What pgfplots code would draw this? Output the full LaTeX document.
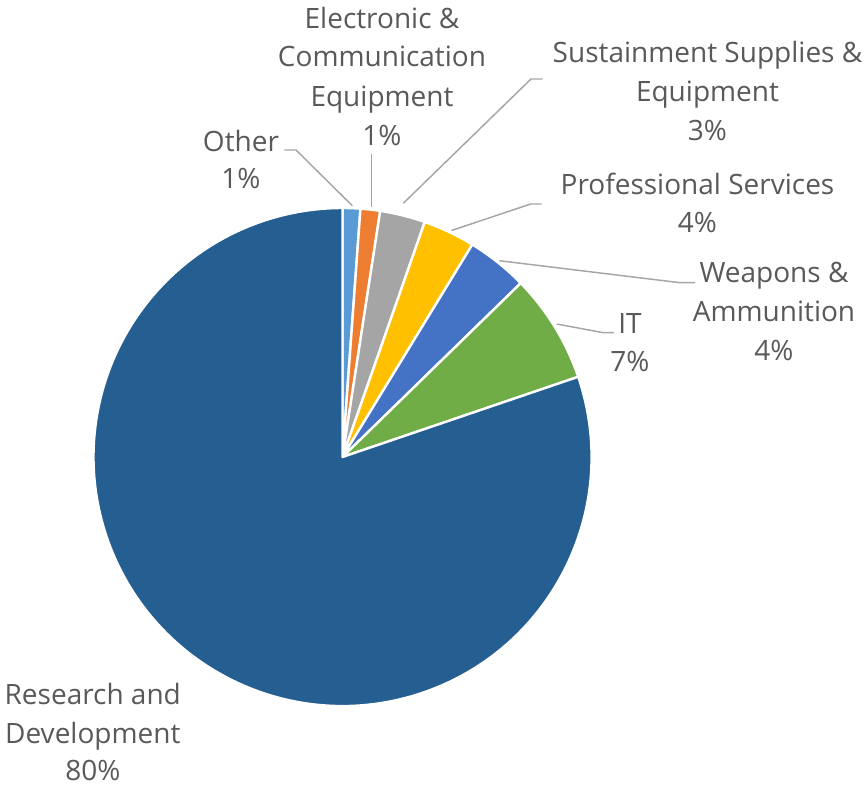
\documentclass[border=0pt]{standalone}
\usepackage{pgfplots}
\pgfplotsset{compat=1.18}
\usepackage{fontspec}
\setmainfont{Open Sans}
\definecolor{cOther}{HTML}{5B9BD5}
\definecolor{cElec}{HTML}{ED7D31}
\definecolor{cSust}{HTML}{A5A5A5}
\definecolor{cProf}{HTML}{FFC000}
\definecolor{cWeap}{HTML}{4472C4}
\definecolor{cIT}{HTML}{70AD47}
\definecolor{cRD}{HTML}{255E91}
\definecolor{txt}{HTML}{595959}
\definecolor{lead}{HTML}{A6A6A6}
% shares of the pie (percent), clockwise from 12 o'clock
\def\vOther{1.15}
\def\vElec{1.27}
\def\vSust{2.94}
\def\vProf{3.37}
\def\vWeap{3.97}
\def\vIT{7.08}
\def\vRD{80.22}
\begin{document}
\begin{tikzpicture}
\pgfmathsetmacro\aA{90}
\pgfmathsetmacro\aB{\aA-3.6*\vOther}
\pgfmathsetmacro\aC{\aB-3.6*\vElec}
\pgfmathsetmacro\aD{\aC-3.6*\vSust}
\pgfmathsetmacro\aE{\aD-3.6*\vProf}
\pgfmathsetmacro\aF{\aE-3.6*\vWeap}
\pgfmathsetmacro\aG{\aF-3.6*\vIT}
\pgfmathsetmacro\aH{\aG-3.6*\vRD}
\def\R{186.75pt}
\newcommand{\pieslice}[3]{%
  \addplot[fill=#1, draw=white, line width=1.8pt, line join=round]
    coordinates {(342.5,457)} -- ++(#2:\R) arc[start angle=#2, end angle=#3, radius=\R] -- cycle;}
\newcommand{\lab}[3]{\node[anchor=base, inner sep=0pt, text=txt, font=\fontsize{21}{29.5}\selectfont] at (axis cs:#1,#2) {#3};}
\begin{axis}[x=0.75pt, y=0.75pt, xmin=0, xmax=864, ymin=0, ymax=786, y dir=reverse,
  hide axis, clip=false]
\pieslice{cOther}{\aA}{\aB}
\pieslice{cElec}{\aB}{\aC}
\pieslice{cSust}{\aC}{\aD}
\pieslice{cProf}{\aD}{\aE}
\pieslice{cWeap}{\aE}{\aF}
\pieslice{cIT}{\aF}{\aG}
\pieslice{cRD}{\aG}{\aH}
% leader lines
\draw[lead, line width=1.1pt] (axis cs:284.3,150) -- (axis cs:296,150) -- (axis cs:352.3,205.7);
\draw[lead, line width=1.1pt] (axis cs:371.7,154) -- (axis cs:371.7,206.7);
\draw[lead, line width=1.1pt] (axis cs:542.7,79) -- (axis cs:531,79) -- (axis cs:403.3,203.3);
\draw[lead, line width=1.1pt] (axis cs:541.7,204) -- (axis cs:530.7,204) -- (axis cs:451.5,230.5);
\draw[lead, line width=1.1pt] (axis cs:695,282.7) -- (axis cs:680,282.7) -- (axis cs:499.3,260.7);
\draw[lead, line width=1.1pt] (axis cs:614,332.7) -- (axis cs:603.3,332.7) -- (axis cs:556.7,324);
% labels
\lab{241}{151.7}{Other}
\lab{241}{188.3}{1\%}
\lab{382}{28.3}{Electronic \&}
\lab{382}{66.7}{Communication}
\lab{382}{106}{Equipment}
\lab{382}{145}{1\%}
\lab{707.5}{62.3}{Sustainment Supplies \&}
\lab{707.5}{101}{Equipment}
\lab{707.5}{140}{3\%}
\lab{697.5}{194.3}{Professional Services}
\lab{697.5}{232.3}{4\%}
\lab{774}{282.7}{Weapons \&}
\lab{774}{321.7}{Ammunition}
\lab{774}{360}{4\%}
\lab{630}{333.3}{IT}
\lab{630}{371.7}{7\%}
\lab{92.8}{704.3}{Research and}
\lab{92.8}{743.3}{Development}
\lab{92.8}{780.7}{80\%}
\end{axis}
\pgfresetboundingbox
\path (0,0) rectangle (648pt,589.5pt);
\end{tikzpicture}
\end{document}
